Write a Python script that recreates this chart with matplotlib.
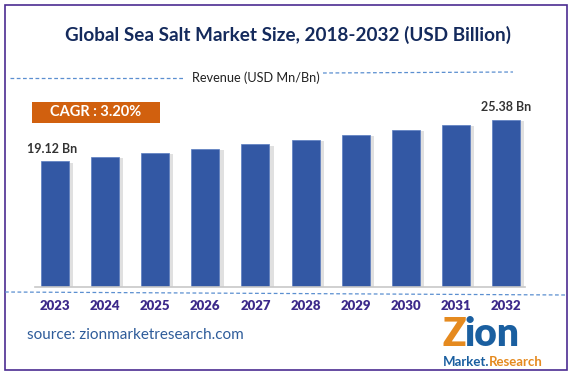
import matplotlib
matplotlib.use("Agg")
import matplotlib.pyplot as plt
from matplotlib.lines import Line2D
from matplotlib.patches import Rectangle
import matplotlib.patheffects as pe

years = ["2023", "2024", "2025", "2026", "2027", "2028", "2029", "2030", "2031", "2032"]
values = [19.12, 19.75, 20.38, 21.02, 21.70, 22.39, 23.11, 23.85, 24.62, 25.38]
first_label = "19.12 Bn"
last_label = "25.38 Bn"
title = "Global Sea Salt Market Size, 2018-2032 (USD Billion)"
cagr = "CAGR : 3.20%"

plt.rcParams['font.family'] = ['Lato', 'DejaVu Sans']

W, H = 573, 375
fig = plt.figure(figsize=(W/100, H/100), dpi=100)

def fx(px):
    return px / W

def fy(py):
    return 1 - py / H

# frame
fig.patches.append(Rectangle((fx(5), fy(370)), fx(562), (365)/H, transform=fig.transFigure,
                             fill=False, edgecolor='#4b2c91', linewidth=1.2))

ax = fig.add_axes([fx(35), fy(287), fx(490), (287-100)/H])
x = range(len(years))
bars = ax.bar(x, values, width=0.56, color='#3358a4', edgecolor='#5a7cc0', linewidth=0.5,
              path_effects=[pe.SimplePatchShadow(offset=(3, -1), shadow_rgbFace='#999999', alpha=0.3), pe.Normal()])
ax.set_xlim(-0.4, 9.38)
ax.set_ylim(0, 187/6.58)
for s in ['top', 'right', 'left']:
    ax.spines[s].set_visible(False)
ax.spines['bottom'].set_color('#c8c8c8')
ax.spines['bottom'].set_linewidth(1.2)
ax.set_yticks([])
ax.set_xticks(list(x))
ax.set_xticklabels(years, fontsize=9.5, fontweight='heavy', color='#3d2a8a')
ax.tick_params(axis='x', length=0, pad=9)

ax.text(0 - 0.05, values[0] + 1.0, first_label, ha='center', va='bottom', fontsize=9,
        fontweight='bold', color='#333333')
ax.text(9, values[-1] + 1.0, last_label, ha='center', va='bottom', fontsize=9,
        fontweight='bold', color='#333333')

# title
fig.text(fx(288), fy(35), title, ha='center', va='center', fontsize=13.6, fontweight='bold', color='#142a5c')

# revenue label with dashed lines
fig.text(fx(256), fy(78), "Revenue (USD Mn/Bn)", ha='center', va='center', fontsize=9.2, color='#222222')
fig.lines.append(Line2D([fx(10), fx(185)], [fy(78), fy(78)], transform=fig.transFigure,
                        color='#5b8fd0', linestyle=(0, (3, 2)), linewidth=0.9))
fig.lines.append(Line2D([fx(323), fx(513)], [fy(73), fy(72)], transform=fig.transFigure,
                        color='#5b8fd0', linestyle=(0, (3, 2)), linewidth=0.9))

# dashed line under axis
fig.lines.append(Line2D([fx(5), fx(566)], [fy(292), fy(295)], transform=fig.transFigure,
                        color='#5b8fd0', linestyle=(0, (3, 2)), linewidth=0.9))

# CAGR box
fig.patches.append(Rectangle((fx(32), fy(123)), fx(128), 21/H, transform=fig.transFigure,
                             facecolor='#d1600e', edgecolor='none'))
fig.text(fx(96), fy(112.5), cagr, ha='center', va='center', fontsize=10.5, fontweight='bold', color='white')

# source
fig.text(fx(27), fy(335), "source: zionmarketresearch.com", ha='left', va='center', fontsize=11, color='#2e5c9a')

# logo (text approximation)
fig.text(fx(466), fy(335), "Z", ha='right', va='center', fontsize=28, fontweight='heavy', color='#e58a1f')
fig.text(fx(464), fy(335), "ion", ha='left', va='center', fontsize=28, fontweight='heavy', color='#1a5fa0')
fig.text(fx(489), fy(362), "Market.", ha='right', va='center', fontsize=9.5, fontweight='bold', color='#1a5fa0')
fig.text(fx(489), fy(362), "Research", ha='left', va='center', fontsize=9.5, fontweight='bold', color='#e58a1f')

fig.savefig("out.png", dpi=100)
